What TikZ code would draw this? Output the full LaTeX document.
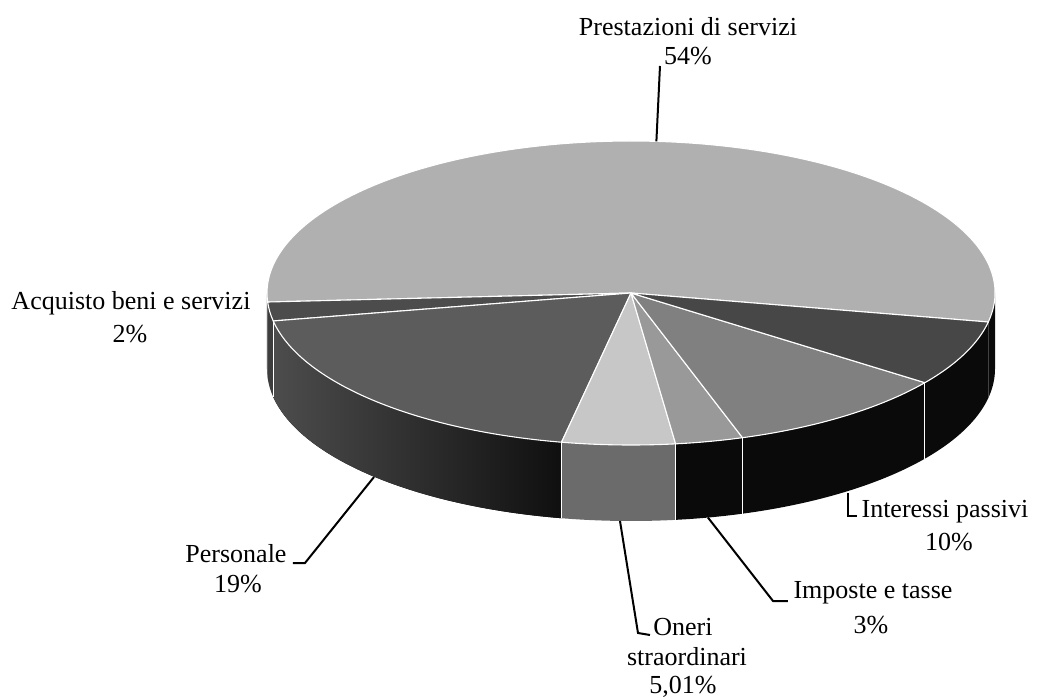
\documentclass[tikz,border=0pt]{standalone}
\usepackage{fontspec}
\setmainfont{Liberation Serif}
\definecolor{cPtop}{gray}{0.69}
\definecolor{cAtop}{gray}{0.30}
\definecolor{cPetop}{gray}{0.36}
\definecolor{cOtop}{gray}{0.78}
\definecolor{cItop}{gray}{0.60}
\definecolor{cInttop}{gray}{0.50}
\definecolor{cDtop}{gray}{0.28}
\definecolor{cOside}{gray}{0.42}
\definecolor{cBlackSide}{gray}{0.04}
\definecolor{cAside}{gray}{0.24}
\definecolor{cPeL}{gray}{0.30}
\definecolor{cPeR}{gray}{0.06}
\newcommand\pieTop[3]{\filldraw[slicetop, fill=#3] (0,0) -- (#1:364pt and 152pt) arc[start angle=#1, end angle=#2, x radius=364pt, y radius=152pt] -- cycle;}
\newcommand\pieSide[3]{\fill[#3] (#1:364pt and 152pt) arc[start angle=#1, end angle=#2, x radius=364pt, y radius=152pt] -- ++(0,-76pt) arc[start angle=#2, end angle=#1, x radius=364pt, y radius=152pt] -- cycle;}
\newcommand\sideSep[1]{\draw[sep] (#1:364pt and 152pt) -- ++(0,-76pt);}
\tikzset{
  lbl/.style={anchor=base, inner sep=0pt, font=\fontsize{26pt}{30pt}\selectfont},
  leader/.style={draw=black, line width=2pt, line join=miter},
  sep/.style={draw=white, line width=1.1pt},
  slicetop/.style={draw=white, line width=1.1pt, line join=round},
}
\begin{document}
\begin{tikzpicture}[x=1pt,y=1pt]
\useasboundingbox (-631,-406) rectangle (406,293);
% side faces (front half)
\pieSide{180}{183.4}{cAside}
\pieSide{183.4}{190.6}{cAside}
\pieSide{190.6}{259.0}{left color=cPeL, right color=cPeR}
\pieSide{259.0}{277.04}{cOside}
\pieSide{277.04}{287.84}{cBlackSide}
\pieSide{287.84}{323.84}{cBlackSide}
\pieSide{323.84}{349}{cBlackSide}
\pieSide{349}{360}{cBlackSide}
\sideSep{190.6}
\sideSep{259.0}
\sideSep{277.04}
\sideSep{287.84}
\sideSep{323.84}
% top faces
\pieTop{-11}{183.4}{cPtop}
\pieTop{183.4}{190.6}{cAtop}
\pieTop{190.6}{259.0}{cPetop}
\pieTop{259.0}{277.04}{cOtop}
\pieTop{277.04}{287.84}{cItop}
\pieTop{287.84}{323.84}{cInttop}
\pieTop{323.84}{349}{cDtop}
% labels
\node[lbl] (prestA) at (57,257) {Prestazioni di servizi};
\node[lbl] (prestB) at (57,228) {54\%};
\node[lbl] (acqA) at (-500,-17) {Acquisto beni e servizi};
\node[lbl] (acqB) at (-501,-49) {2\%};
\node[lbl] (persA) at (-395,-269) {Personale};
\node[lbl] (persB) at (-393,-299) {19\%};
\node[lbl] (oneA) at (52,-342) {Oneri};
\node[lbl] (oneB) at (56,-372) {straordinari};
\node[lbl] (oneC) at (52,-400) {5,01\%};
\node[lbl] (impA) at (242,-305) {Imposte e tasse};
\node[lbl] (impB) at (240,-340) {3\%};
\node[lbl] (intA) at (314,-224) {Interessi passivi};
\node[lbl] (intB) at (318,-257) {10\%};
% leader anchor points
\coordinate (pRim) at (86:364pt and 152pt);
\coordinate (pTip) at (29,227);
\coordinate (peRim) at (-257,-184);
\coordinate (peBend) at (-326,-270);
\coordinate (peEnd) at (-338,-270);
\coordinate (oRim) at (-11,-228);
\coordinate (oBend) at (7,-340);
\coordinate (oEnd) at (19,-342);
\coordinate (iRim) at (77,-224.6);
\coordinate (iBend) at (142,-308);
\coordinate (iEnd) at (157,-308);
\coordinate (nRim) at (217,-200);
\coordinate (nBend) at (217,-223);
\coordinate (nEnd) at (226,-223);
% leaders
\draw[leader] (pRim) -- (pTip);
\draw[leader] (peRim) -- (peBend) -- (peEnd);
\draw[leader] (oRim) -- (oBend) -- (oEnd);
\draw[leader] (iRim) -- (iBend) -- (iEnd);
\draw[leader] (nRim) -- (nBend) -- (nEnd);
\end{tikzpicture}
\end{document}
